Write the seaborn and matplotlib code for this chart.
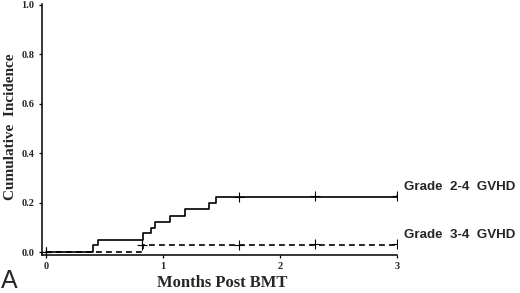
import pandas as pd
import seaborn as sns
import matplotlib
import matplotlib.pyplot as plt

matplotlib.use('Agg')

# Cumulative incidence step curves (months post BMT)
times_24 = [0.0, 0.40, 0.44, 0.83, 0.895, 0.93, 1.06, 1.19, 1.39, 1.45, 3.0]
inc_24 = [0.0, 0.028, 0.049, 0.076, 0.096, 0.120, 0.147, 0.173, 0.197, 0.224, 0.226]
times_34 = [0.0, 0.83, 3.0]
inc_34 = [0.0, 0.030, 0.031]

# censoring marks
cens_24_t = [0.0, 1.65, 2.30, 3.0]
cens_24_y = [0.0, 0.224, 0.225, 0.226]
cens_34_t = [0.0, 0.82, 1.65, 2.30, 3.0]
cens_34_y = [0.0, 0.030, 0.030, 0.031, 0.031]

labels = ["Grade  2-4  GVHD", "Grade  3-4  GVHD"]

df24 = pd.DataFrame({"t": times_24, "ci": inc_24})
df34 = pd.DataFrame({"t": times_34, "ci": inc_34})

sns.set_style("ticks")
plt.rcParams['font.family'] = ['Liberation Serif', 'DejaVu Serif']

fig = plt.figure(figsize=(5.2, 2.93), dpi=100)
ax = fig.add_axes([42 / 520, 1 - 254.5 / 293, 355 / 520, 249.5 / 293])

sns.lineplot(data=df34, x="t", y="ci", ax=ax, drawstyle="steps-post",
             color="black", linewidth=1.2, linestyle=(0, (3.5, 2.5)))
sns.lineplot(data=df24, x="t", y="ci", ax=ax, drawstyle="steps-post",
             color="black", linewidth=1.2)
ax.plot(cens_24_t, cens_24_y, linestyle="none", marker="+", color="black",
        markersize=7, markeredgewidth=0.8)
ax.plot(cens_34_t, cens_34_y, linestyle="none", marker="+", color="black",
        markersize=7, markeredgewidth=0.8)

ax.set_xlim(-0.035, 3.0)
ax.set_ylim(-0.01, 1.0)
ax.set_xticks([0, 1, 2, 3])
ax.set_yticks([0.0, 0.2, 0.4, 0.6, 0.8, 1.0])
ax.set_xticklabels(["0", "1", "2", "3"])
ax.set_yticklabels(["0.0", "0.2", "0.4", "0.6", "0.8", "1.0"])
ax.tick_params(axis="both", labelsize=7.5, length=2.5, width=0.9, pad=3,
               color="black")
for lab in ax.get_xticklabels() + ax.get_yticklabels():
    lab.set_fontweight("bold")

sns.despine(ax=ax, top=True, right=True)
for side in ["left", "bottom"]:
    ax.spines[side].set_linewidth(1.1)
    ax.spines[side].set_color("black")
ax.spines["left"].set_bounds(-0.01, 1.005)
ax.grid(False)

ax.set_xlabel("")
ax.set_ylabel("")
fig.text(222 / 520, 1 - 283 / 293, "Months Post BMT", ha="center", va="center",
         fontsize=12, fontweight="bold")
fig.text(11 / 520, 1 - 127 / 293, "Cumulative  Incidence", ha="center",
         va="center", rotation=90, fontsize=11, fontweight="bold")

# curve labels
fig.text(404 / 520, 1 - 187 / 293, labels[0], ha="left", va="center",
         fontsize=9.6, fontweight="bold", family=["Liberation Sans", "DejaVu Sans"])
fig.text(404 / 520, 1 - 235.5 / 293, labels[1], ha="left", va="center",
         fontsize=9.6, fontweight="bold", family=["Liberation Sans", "DejaVu Sans"])

fig.text(0.002, 1 - 281 / 293, "A", ha="left", va="center", fontsize=18,
         family=["Liberation Sans", "DejaVu Sans"])

fig.savefig("out.png", dpi=100, facecolor="white")
